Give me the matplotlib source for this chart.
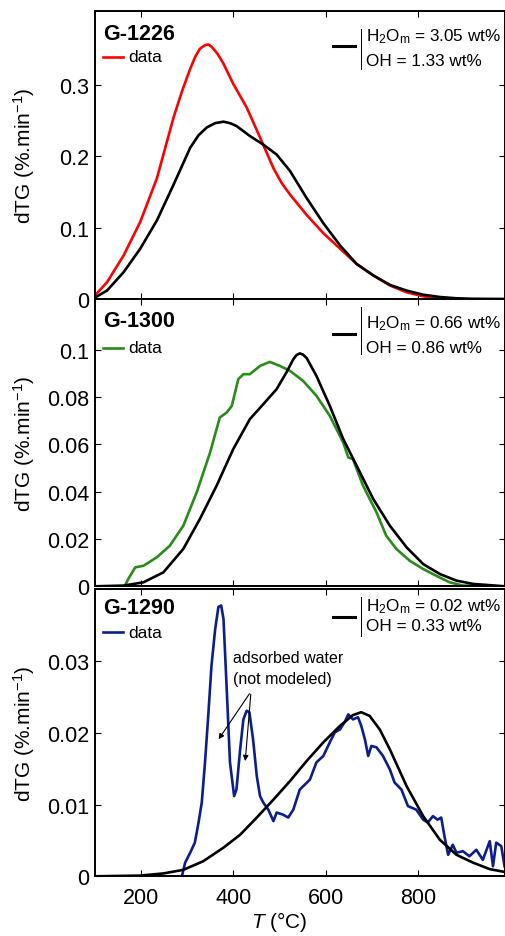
import numpy as np
import matplotlib
matplotlib.use('Agg')
import matplotlib.pyplot as plt
from matplotlib.lines import Line2D

plt.rcParams['font.family'] = ['Liberation Sans', 'DejaVu Sans']
plt.rcParams['mathtext.fontset'] = 'custom'
plt.rcParams['mathtext.rm'] = 'Liberation Sans'
plt.rcParams['mathtext.it'] = 'Liberation Sans:italic'
plt.rcParams['mathtext.default'] = 'regular'

# ---------------- data ----------------
# G-1226
t1_data = [101, 127, 163, 199, 235, 271, 290, 307, 318, 328, 339, 346, 353,
           366, 379, 400, 429, 458, 487, 505, 523, 559, 595, 631, 667, 703,
           739, 775, 811, 854]
v1_data = [0.005, 0.0235, 0.061, 0.108, 0.169, 0.254, 0.292, 0.322, 0.339,
           0.350, 0.355, 0.356, 0.353, 0.343, 0.329, 0.301, 0.268, 0.226,
           0.183, 0.162, 0.146, 0.1175, 0.092, 0.0705, 0.049, 0.033, 0.019,
           0.0094, 0.0038, 0.0]
t1_model = [101, 127, 163, 199, 235, 271, 307, 325, 343, 361, 379, 393, 407,
            436, 465, 494, 523, 559, 595, 631, 667, 703, 739, 775, 811, 847,
            883, 919, 988]
v1_model = [0.002, 0.0118, 0.0376, 0.0705, 0.110, 0.160, 0.2116, 0.229,
            0.240, 0.246, 0.248, 0.246, 0.242, 0.228, 0.216, 0.202, 0.179,
            0.141, 0.106, 0.075, 0.049, 0.033, 0.0197, 0.0118, 0.006, 0.0028,
            0.001, 0.0003, 0.0]

# G-1300
t2_data = [165, 173, 188, 206, 235, 263, 292, 321, 350, 371, 386, 397, 411,
           422, 436, 458, 479, 501, 523, 551, 580, 609, 638, 649, 659, 681,
           710, 731, 753, 782, 811, 839, 868, 897, 926, 955]
v2_data = [0.0, 0.0031, 0.008, 0.0087, 0.0123, 0.0172, 0.0256, 0.0397,
           0.0566, 0.0714, 0.0735, 0.0763, 0.0876, 0.0897, 0.0897, 0.0932,
           0.0949, 0.0932, 0.0911, 0.0869, 0.0806, 0.0721, 0.0608, 0.0545,
           0.0538, 0.0425, 0.0313, 0.0214, 0.0158, 0.0108, 0.0073, 0.0045,
           0.0017, 0.0003, 0.0003, 0.0]
t2_model = [101, 163, 206, 249, 292, 328, 364, 400, 436, 465, 494, 515, 530,
            537, 544, 551, 559, 580, 609, 638, 667, 703, 739, 775, 811, 847,
            883, 919, 988]
v2_model = [0.0, 0.0003, 0.0017, 0.0059, 0.0158, 0.0285, 0.0425, 0.058,
            0.0707, 0.077, 0.0834, 0.0904, 0.096, 0.0978, 0.0985, 0.0980,
            0.0965, 0.089, 0.0763, 0.0623, 0.051, 0.0369, 0.0256, 0.0165,
            0.0094, 0.0052, 0.0024, 0.001, 0.0]

# G-1290
t3_data = [289, 296, 307, 317, 325, 332, 339, 346, 353, 361, 368, 374, 379,
           386, 393, 402, 407, 415, 422, 429, 435, 443, 451, 458, 465, 476,
           487, 494, 508, 519, 530, 544, 566, 580, 595, 609, 620, 631, 641,
           649, 659, 670, 677, 685, 692, 699, 710, 724, 739, 749, 764, 778,
           796, 811, 821, 832, 842, 850, 857, 865, 875, 883, 897, 911, 926,
           940, 955, 962, 969, 980, 987]
v3_data = [0.0, 0.0019, 0.0033, 0.0047, 0.0075, 0.0103, 0.0159, 0.0224,
           0.0294, 0.0345, 0.0376, 0.0378, 0.0359, 0.0261, 0.0159, 0.0112,
           0.0121, 0.0177, 0.0219, 0.0231, 0.0229, 0.0191, 0.014, 0.0112,
           0.0103, 0.0093, 0.0077, 0.0089, 0.0086, 0.0082, 0.0093, 0.0121,
           0.0135, 0.0159, 0.0168, 0.0187, 0.0201, 0.0205, 0.0215, 0.0226,
           0.0219, 0.0222, 0.021, 0.0191, 0.0168, 0.0182, 0.018, 0.0168,
           0.0149, 0.0131, 0.0121, 0.0098, 0.0093, 0.0079, 0.0075, 0.0084,
           0.0079, 0.0082, 0.0056, 0.003, 0.0044, 0.0033, 0.0035, 0.0028,
           0.0037, 0.0023, 0.0049, 0.0014, 0.0047, 0.0042, 0.0014]
t3_model = [101, 199, 249, 292, 335, 379, 415, 451, 487, 523, 559, 595, 631,
            659, 677, 695, 717, 739, 775, 811, 847, 883, 919, 955, 988]
v3_model = [0.0, 0.0001, 0.0004, 0.0009, 0.0021, 0.004, 0.0058, 0.0082,
            0.0107, 0.0133, 0.0161, 0.0187, 0.021, 0.0225, 0.0229, 0.0224,
            0.0205, 0.0177, 0.0126, 0.0084, 0.0051, 0.003, 0.0019, 0.001,
            0.0006]

names = ['G-1226', 'G-1300', 'G-1290']
h2o_m = ['3.05', '0.66', '0.02']
oh = ['1.33', '0.86', '0.33']
colors = ['#ff0000', '#2a8a1a', '#0c1e8c']
yticks = [[0, 0.1, 0.2, 0.3],
          [0, 0.02, 0.04, 0.06, 0.08, 0.1],
          [0, 0.01, 0.02, 0.03]]
ylims = [0.4028, 0.1215, 0.0401]
xticks = [200, 400, 600, 800]

data_t = [t1_data, t2_data, t3_data]
data_v = [v1_data, v2_data, v3_data]
model_t = [t1_model, t2_model, t3_model]
model_v = [v1_model, v2_model, v3_model]

# ---------------- figure ----------------
W, H = 505, 937
fig = plt.figure(figsize=(W / 100, H / 100), dpi=100)

# axes boxes in pixels: (top, bottom)
boxes = [(12, 300), (300, 587.3), (590, 877.3)]
# per-panel legend offsets from top of axes in px:
# title, data line, model line, text line 1, text line 2, bar top, bar bottom
offs = [(22, 46, 35, 25, 50, 18, 58),
        (22, 49, 35, 24, 49, 8, 55),
        (18, 43, 28, 17, 37, 8, 47)]

fs = 15.5
axes = []
for i in range(3):
    top, bot = boxes[i]
    ax = fig.add_axes([95 / W, 1 - bot / H, 410 / W, (bot - top) / H])
    axes.append(ax)
    hpx = bot - top

    ax.plot(model_t[i], model_v[i], color='black', lw=1.9, zorder=3)
    ax.plot(data_t[i], data_v[i], color=colors[i], lw=1.9, zorder=2)

    ax.set_xlim(101, 988)
    ax.set_ylim(0, ylims[i])
    ax.set_xticks(xticks)
    ax.set_yticks(yticks[i])
    ax.set_yticklabels(['%g' % v for v in yticks[i]])
    ax.tick_params(direction='in', top=True, right=True, length=4,
                   width=0.8, labelsize=fs, pad=4)
    for s in ax.spines.values():
        s.set_linewidth(1.4)
    if i < 2:
        ax.tick_params(labelbottom=False)

    ax.set_ylabel('dTG (%.min$^{-1}$)', fontsize=15)
    ax.yaxis.set_label_coords(-0.142, 0.5)

    o = offs[i]
    fy = lambda p: 1 - p / hpx
    ax.text(0.02, fy(o[0]), names[i], transform=ax.transAxes, fontsize=15.5,
            fontweight='bold', va='center', ha='left')
    ax.add_line(Line2D([0.0195, 0.068], [fy(o[1]), fy(o[1])],
                       transform=ax.transAxes, color=colors[i], lw=1.9))
    ax.text(0.082, fy(o[1]), 'data', transform=ax.transAxes, fontsize=12.5,
            va='center', ha='left')
    ax.add_line(Line2D([0.580, 0.634], [fy(o[2]), fy(o[2])],
                       transform=ax.transAxes, color='black', lw=2.2))
    ax.add_line(Line2D([0.649, 0.649], [fy(o[5]), fy(o[6])],
                       transform=ax.transAxes, color='black', lw=0.7))
    ax.text(0.661, fy(o[3]), 'H$_2$O$_m$ = %s wt%%' % h2o_m[i],
            transform=ax.transAxes, fontsize=12.3, va='center', ha='left')
    ax.text(0.661, fy(o[4]), 'OH = %s wt%%' % oh[i],
            transform=ax.transAxes, fontsize=12.3, va='center', ha='left')

ax = axes[2]
ax.set_xticklabels([str(x) for x in xticks])
ax.tick_params(axis='x', pad=8)
ax.set_xlabel('$\\mathit{T}$ (°C)', fontsize=15)
ax.xaxis.set_label_coords(0.45, -0.113)

ax.text(400, 0.0291, 'adsorbed water\n(not modeled)', fontsize=11.5,
        va='center', ha='left', linespacing=1.45)
ax.annotate('', xy=(365, 0.0188), xytext=(438.5, 0.0258),
            arrowprops=dict(arrowstyle='-|>', lw=0.8, color='black',
                            mutation_scale=8))
ax.annotate('', xy=(425.5, 0.0157), xytext=(438.5, 0.0258),
            arrowprops=dict(arrowstyle='-|>', lw=0.8, color='black',
                            mutation_scale=8))

fig.savefig('out.png', dpi=100)
